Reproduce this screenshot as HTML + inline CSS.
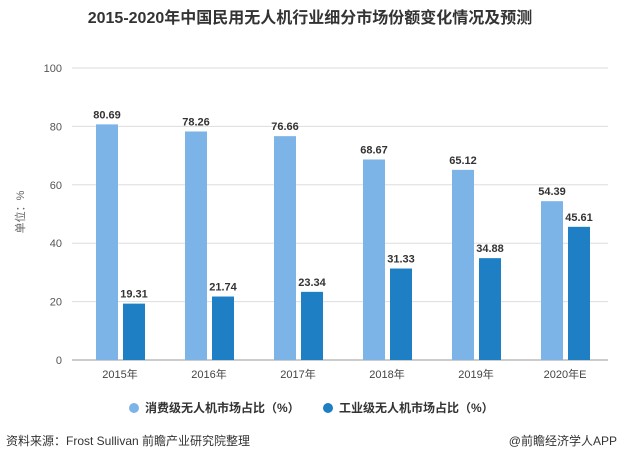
<!DOCTYPE html>
<html><head><meta charset="utf-8"><style>
body{margin:0;width:621px;height:463px;background:#fff;overflow:hidden;font-family:"Liberation Sans","Noto Sans CJK SC",sans-serif;}
</style></head><body>
<svg width="621" height="463">
<text x="310" y="23" text-anchor="middle" font-size="16" font-weight="bold" fill="#333">2015-2020年中国民用无人机行业细分市场份额变化情况及预测</text>
<text transform="translate(24,212) rotate(-90)" text-anchor="middle" font-size="11" fill="#666">单位：%</text>
<g id="grid"></g><g id="bars"></g>
<g>
<circle cx="134" cy="408" r="5" fill="#7cb4e8"/>
<text x="145" y="412" font-size="12" font-weight="bold" fill="#333">消费级无人机市场占比（%）</text>
<circle cx="328" cy="408" r="5" fill="#1f7fc4"/>
<text x="339" y="412" font-size="12" font-weight="bold" fill="#333">工业级无人机市场占比（%）</text>
</g>
<text x="6" y="445" font-size="12" fill="#333">资料来源：Frost Sullivan 前瞻产业研究院整理</text>
<text x="617" y="445" text-anchor="end" font-size="12" fill="#333">@前瞻经济学人APP</text>
</svg>
<script>
const categories=["2015年","2016年","2017年","2018年","2019年","2020年E"];
const consumer=[80.69,78.26,76.66,68.67,65.12,54.39];
const industrial=[19.31,21.74,23.34,31.33,34.88,45.61];
const yTicks=[0,20,40,60,80,100];
const NS="http://www.w3.org/2000/svg";
const y=v=>360-v*2.92;
const xc=i=>120+i*89;
function mk(t,a,p){const e=document.createElementNS(NS,t);for(const k in a)e.setAttribute(k,a[k]);p.appendChild(e);return e;}
const g=document.getElementById('grid'),b=document.getElementById('bars');
yTicks.forEach(v=>{
const l=mk('line',{x1:72,x2:608,y1:y(v),y2:y(v),stroke:v===0?'#999':'#ddd','stroke-width':1},g);


const t=mk('text',{x:62,y:y(v)+4,'text-anchor':'end','font-size':11,fill:'#555'},g);t.textContent=v;


});
categories.forEach((c,i)=>{
const t=mk('text',{x:xc(i),y:378,'text-anchor':'middle','font-size':11,fill:'#444'},g);t.textContent=c;


[[consumer[i],-24,'#7cb4e8','bar-consumer'],[industrial[i],3,'#1f7fc4','bar-industrial']].forEach(([v,o,col,n])=>{
const r=mk('rect',{x:xc(i)+o,y:y(v),width:22,height:360-y(v),fill:col},b);


const l=mk('text',{x:xc(i)+o+11,y:y(v)-6,'text-anchor':'middle','font-size':11,'font-weight':'bold',fill:'#333'},b);l.textContent=v.toFixed(2);


});
});
</script>
</body></html>
